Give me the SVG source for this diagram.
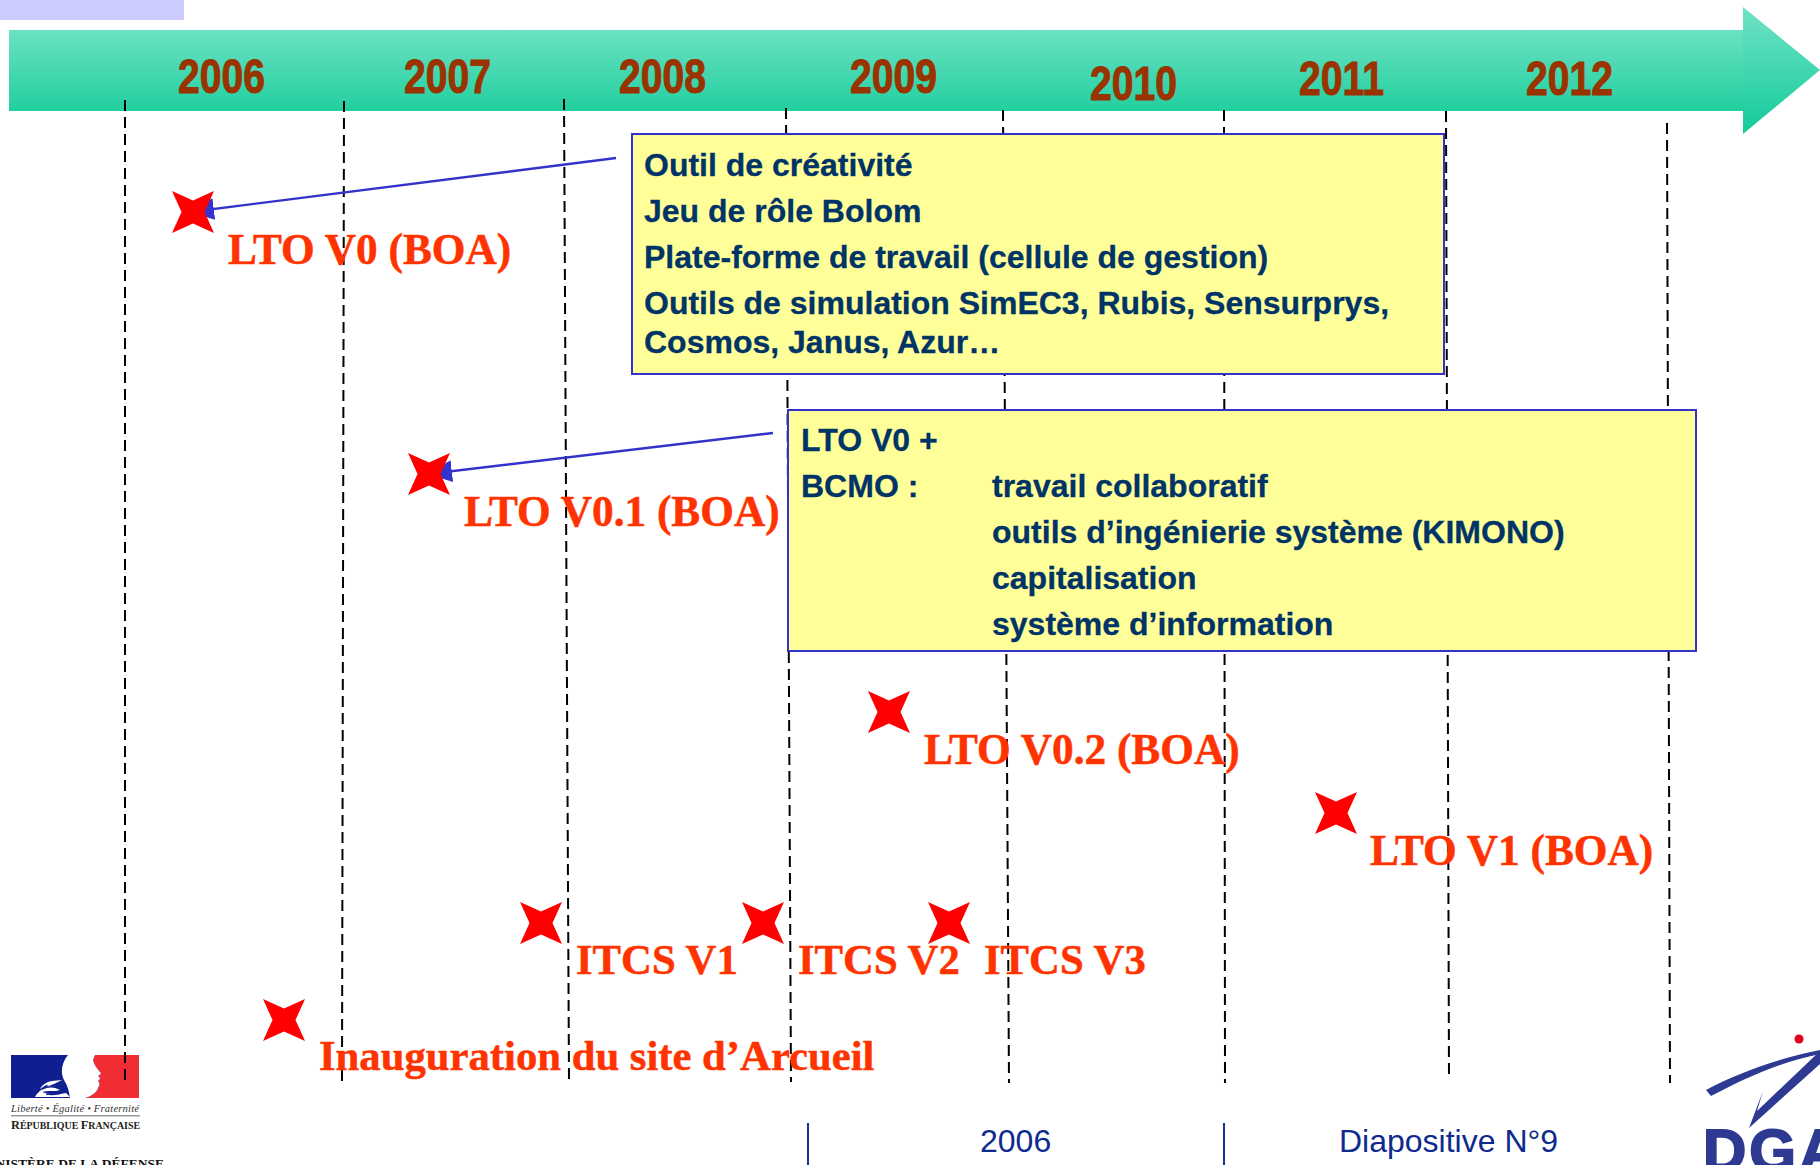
<svg xmlns="http://www.w3.org/2000/svg" width="1820" height="1165" viewBox="0 0 1820 1165">
<style>
.year{font:bold 48px "Liberation Sans",Arial,sans-serif;fill:#993300;stroke:#993300;stroke-width:1}
.dash{stroke:#000;stroke-width:2;stroke-dasharray:11 6;fill:none}
.box{fill:#ffff99;stroke:#3333cc;stroke-width:2}
.bt{font:bold 32px "Liberation Sans",Arial,sans-serif;fill:#003366;stroke:#003366;stroke-width:.3}
.red{font:bold 42.7px "Liberation Serif","Times New Roman",serif;fill:#ff3300;stroke:#ff3300;stroke-width:.5}
.lto{font-size:43.3px}
.foot{font:32px "Liberation Sans",Arial,sans-serif;fill:#0f2a8f}
.conn{stroke:#3333cc;stroke-width:2.4;fill:none;marker-end:url(#ah)}
.rule{stroke:#1a2f96;stroke-width:2}
</style>
<defs>
<linearGradient id="gb" x1="0" y1="0" x2="0" y2="1"><stop offset="0" stop-color="#6ae1c2"/><stop offset="1" stop-color="#22cfa0"/></linearGradient>
<linearGradient id="gh" x1="0" y1="0" x2="0" y2="1"><stop offset="0" stop-color="#70e2c6"/><stop offset="1" stop-color="#12cb9a"/></linearGradient>
<marker id="ah" markerUnits="userSpaceOnUse" markerWidth="26" markerHeight="24" refX="24" refY="11" orient="auto"><path d="M0 0L24 11L0 22Z" fill="#3333cc"/></marker>
<path id="star" d="M-21-21L0-11.5L21-21L11.5 0L21 21L0 11.5L-21 21L-11.5 0Z" fill="#ff0000"/>
</defs>
<rect id="tab" x="0" y="0" width="184" height="20" fill="#ccccff"/>
<g id="timeline">
<rect x="9" y="30" width="1735" height="81" fill="url(#gb)"/>
<path d="M1743 7L1820 70L1743 134Z" fill="url(#gh)"/>
<text class="year" x="178" y="93" textLength="87" lengthAdjust="spacingAndGlyphs">2006</text>
<text class="year" x="404" y="93" textLength="87" lengthAdjust="spacingAndGlyphs">2007</text>
<text class="year" x="619" y="93" textLength="87" lengthAdjust="spacingAndGlyphs">2008</text>
<text class="year" x="850" y="93" textLength="87" lengthAdjust="spacingAndGlyphs">2009</text>
<text class="year" x="1090" y="100" textLength="87" lengthAdjust="spacingAndGlyphs">2010</text>
<text class="year" x="1299" y="95" textLength="85" lengthAdjust="spacingAndGlyphs">2011</text>
<text class="year" x="1526" y="95" textLength="87" lengthAdjust="spacingAndGlyphs">2012</text>
</g>
<g id="logo-republique">
<rect x="11" y="1055" width="128" height="43" fill="#0f1f8f"/>
<path d="M95 1055H139V1098H85C92 1096 97 1092 98 1088C100 1085 100 1083 98 1081C101 1079 100 1077 98 1076C100 1075 102 1073 100 1072C97 1068 94 1065 93 1060Z" fill="#f02d33"/>
<path d="M68 1055H95L93 1060C94 1065 97 1068 100 1072C102 1073 100 1075 98 1076C100 1077 101 1079 98 1081C100 1083 100 1085 98 1088C97 1092 92 1096 85 1098H70C69 1092 68 1086 64 1080C60 1072 62 1062 68 1055Z" fill="#fff"/>
<path d="M35 1097C38 1091 46 1086 54 1084L62 1080L52 1081C46 1082 42 1085 40 1089L46 1085C52 1086 58 1087 60 1090C55 1092 48 1090 42 1092C47 1094 55 1095 66 1093L70 1097Z" fill="#fff"/>
<path d="M42 1089C48 1086 54 1086 60 1089M46 1094C52 1095 60 1094 66 1091" stroke="#0f1f8f" stroke-width="1.4" fill="none"/>
<text x="11" y="1112" font-family="Liberation Serif,serif" font-style="italic" font-size="10.5" textLength="128" lengthAdjust="spacing" fill="#333">Liberté • Égalité • Fraternité</text>
<rect x="11" y="1115" width="129" height="1.5" fill="#999"/>
<text x="11" y="1129" font-family="Liberation Serif,serif" font-weight="bold" font-size="10" textLength="129" lengthAdjust="spacingAndGlyphs" fill="#222"><tspan font-size="12.5">R</tspan>ÉPUBLIQUE <tspan font-size="12.5">F</tspan>RANÇAISE</text>
<text x="164" y="1168" text-anchor="end" font-family="Liberation Serif,serif" font-weight="bold" font-size="13.5" fill="#111">MINISTÈRE DE LA DÉFENSE</text>
</g>
<g id="gridlines">
<line class="dash" x1="125" y1="100" x2="125" y2="1082"/>
<line class="dash" x1="344" y1="101" x2="342" y2="1083"/>
<line class="dash" x1="564" y1="99" x2="569" y2="1083"/>
<line class="dash" x1="786" y1="108" x2="791" y2="1082"/>
<line class="dash" x1="1003" y1="110" x2="1009" y2="1083"/>
<line class="dash" x1="1224" y1="110" x2="1225" y2="1083"/>
<line class="dash" x1="1446" y1="111" x2="1449" y2="1080"/>
<line class="dash" x1="1667" y1="123" x2="1670" y2="1083"/>
</g>
<g id="connectors">
<line class="conn" x1="616" y1="158" x2="190" y2="212"/>
<line class="conn" x1="773" y1="433" x2="428" y2="474"/>
</g>
<g id="box-lto-v0">
<rect class="box" x="632" y="134" width="812" height="240"/>
<text class="bt" x="644" y="176">Outil de créativité</text>
<text class="bt" x="644" y="222">Jeu de rôle Bolom</text>
<text class="bt" x="644" y="268">Plate-forme de travail (cellule de gestion)</text>
<text class="bt" x="644" y="314">Outils de simulation SimEC3, Rubis, Sensurprys,</text>
<text class="bt" x="644" y="353">Cosmos, Janus, Azur…</text>
</g>
<g id="box-lto-v01">
<rect class="box" x="788" y="410" width="908" height="241"/>
<text class="bt" x="801" y="451">LTO V0 +</text>
<text class="bt" x="801" y="497">BCMO :</text>
<text class="bt" x="992" y="497">travail collaboratif</text>
<text class="bt" x="992" y="543">outils d’ingénierie système (KIMONO)</text>
<text class="bt" x="992" y="589">capitalisation</text>
<text class="bt" x="992" y="635">système d’information</text>
</g>
<g id="m-lto-v0"><use href="#star" x="193" y="212"/><text class="red lto" x="228" y="264">LTO V0 (BOA)</text></g>
<g id="m-lto-v01"><use href="#star" x="429" y="474"/><text class="red lto" x="464" y="526">LTO V0.1 (BOA)</text></g>
<g id="m-lto-v02"><use href="#star" x="889" y="712"/><text class="red lto" x="924" y="764">LTO V0.2 (BOA)</text></g>
<g id="m-lto-v1"><use href="#star" x="1336" y="813"/><text class="red lto" x="1370" y="865">LTO V1 (BOA)</text></g>
<g id="m-itcs-v1"><use href="#star" x="541" y="923"/><text class="red" x="576" y="974">ITCS V1</text></g>
<g id="m-itcs-v2"><use href="#star" x="763" y="923"/><text class="red" x="798" y="974">ITCS V2</text></g>
<g id="m-itcs-v3"><use href="#star" x="949" y="923"/><text class="red" x="984" y="974">ITCS V3</text></g>
<g id="m-inauguration"><use href="#star" x="284" y="1020"/><text class="red" x="319" y="1070">Inauguration du site d’Arcueil</text></g>
<g id="footer">
<line class="rule" x1="808" y1="1123" x2="808" y2="1165"/>
<line class="rule" x1="1224" y1="1123" x2="1224" y2="1165"/>
<text class="foot" x="980" y="1152">2006</text>
<text class="foot" x="1339" y="1152">Diapositive N°9</text>
</g>
<g id="logo-dga">
<circle cx="1799" cy="1039" r="4.5" fill="#e2001a"/>
<path d="M1706 1090C1740 1072 1780 1058 1820 1050V1054C1780 1062 1745 1078 1711 1096Z" fill="#2e3a92"/>
<path d="M1820 1051L1757 1111L1763 1091L1749 1128L1820 1064Z" fill="#2e3a92"/>
<text x="1703" y="1171" font-family="Liberation Sans,sans-serif" font-weight="bold" font-size="60" letter-spacing="3" fill="#2e3a92" stroke="#2e3a92" stroke-width="2">DGA</text>
</g>
</svg>
